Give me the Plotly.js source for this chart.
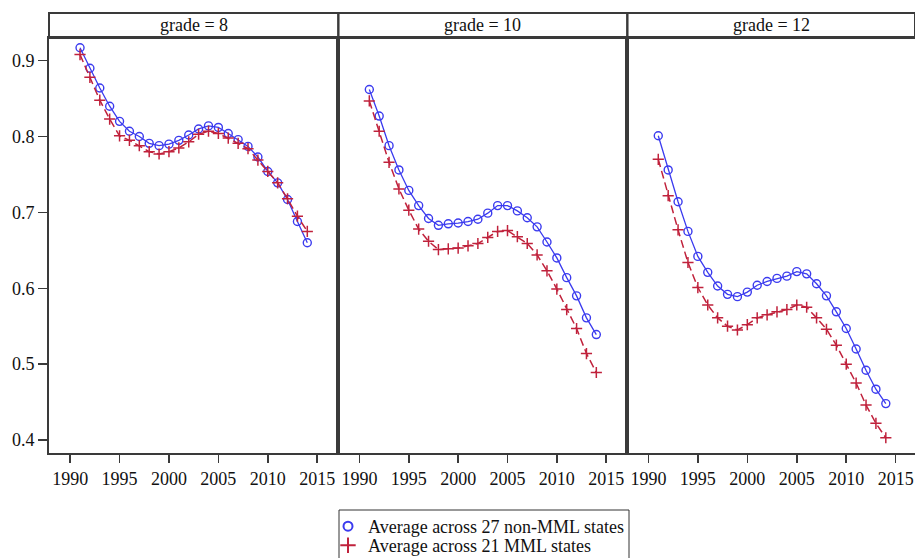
<!DOCTYPE html>
<html>
<head>
<meta charset="utf-8">
<script src="https://cdn.plot.ly/plotly-3.0.1.min.js"></script>
<style>html,body{margin:0;padding:0;background:#fff;}#chart{width:915px;height:558px;}</style>
</head>
<body>
<div id="chart"></div>
<script>
const years = [1991,1992,1993,1994,1995,1996,1997,1998,1999,2000,2001,2002,2003,2004,2005,2006,2007,2008,2009,2010,2011,2012,2013,2014];
const panelTitles = ["grade = 8", "grade = 10", "grade = 12"];
const seriesNames = ["Average across 27 non-MML states", "Average across 21 MML states"];

const grade8NonMML = [0.917,0.890,0.864,0.840,0.820,0.807,0.800,0.791,0.788,0.790,0.795,0.802,0.810,0.814,0.812,0.804,0.796,0.787,0.773,0.754,0.739,0.717,0.688,0.660];
const grade8MML    = [0.908,0.878,0.848,0.823,0.801,0.795,0.788,0.780,0.777,0.780,0.785,0.793,0.803,0.807,0.804,0.798,0.791,0.784,0.769,0.754,0.739,0.718,0.695,0.675];

const grade10NonMML = [0.862,0.827,0.788,0.756,0.729,0.709,0.692,0.683,0.685,0.686,0.688,0.691,0.699,0.709,0.709,0.702,0.693,0.681,0.661,0.640,0.614,0.590,0.561,0.539];
const grade10MML    = [0.847,0.807,0.766,0.731,0.703,0.678,0.662,0.651,0.652,0.653,0.656,0.659,0.667,0.675,0.676,0.668,0.659,0.644,0.623,0.599,0.572,0.547,0.514,0.489];

const grade12NonMML = [0.801,0.756,0.714,0.675,0.642,0.621,0.603,0.592,0.589,0.595,0.604,0.609,0.613,0.616,0.622,0.619,0.606,0.590,0.569,0.547,0.520,0.492,0.467,0.448];
const grade12MML    = [0.770,0.722,0.677,0.634,0.601,0.578,0.561,0.550,0.545,0.552,0.561,0.565,0.569,0.572,0.578,0.575,0.561,0.546,0.525,0.500,0.475,0.446,0.422,0.403];

const xTicks = [1990,1995,2000,2005,2010,2015];
const yTicks = [0.4,0.5,0.6,0.7,0.8,0.9];

const BLUE = '#3b3bef';
const RED = '#c0223c';
const FONT = 'Liberation Serif';
const FRAME = '#3a3a3a';

const panels = [
  {non: grade8NonMML, mml: grade8MML},
  {non: grade10NonMML, mml: grade10MML},
  {non: grade12NonMML, mml: grade12MML}
];

const traces = [];
panels.forEach((p, i) => {
  const xa = i === 0 ? 'x' : 'x' + (i + 1);
  const ya = i === 0 ? 'y' : 'y' + (i + 1);
  traces.push({
    x: years, y: p.non, xaxis: xa, yaxis: ya, type: 'scatter', mode: 'lines+markers',
    name: seriesNames[0], showlegend: false,
    line: {color: BLUE, width: 1.3},
    marker: {symbol: 'circle-open', size: 8, color: BLUE, line: {color: BLUE, width: 1.4}}
  });
  traces.push({
    x: years, y: p.mml, xaxis: xa, yaxis: ya, type: 'scatter', mode: 'lines+markers',
    name: seriesNames[1], showlegend: false,
    line: {color: RED, width: 1.5, dash: '8px,4px'},
    marker: {symbol: 'cross-thin-open', size: 8, color: RED, line: {color: RED, width: 1.5}}
  });
});
// legend entries (marker only), one per legend so each row can be placed
traces.push({x: [null], y: [null], type: 'scatter', mode: 'markers', name: seriesNames[0], showlegend: true, legend: 'legend',
  marker: {symbol: 'circle-open', size: 9, color: BLUE, line: {color: BLUE, width: 2}}});
traces.push({x: [null], y: [null], type: 'scatter', mode: 'markers', name: seriesNames[1], showlegend: true, legend: 'legend2',
  marker: {symbol: 'cross-thin-open', size: 11, color: RED, line: {color: RED, width: 2}}});

const domains = [[0, 0.3341], [0.3341, 0.6678], [0.6678, 1]];
const xRanges = [[1987.86, 2017.14], [1987.86, 2017.14], [1987.87, 2016.95]];
const yTop = 0.9432;

const legendBase = {
  xref: 'container', yref: 'container', xanchor: 'left', yanchor: 'top',
  bgcolor: 'rgba(0,0,0,0)', borderwidth: 0,
  font: {family: FONT, size: 18, color: '#111'},
  itemwidth: 30
};

const layout = {
  width: 915, height: 558,
  margin: {l: 49, r: 0, t: 13, b: 105, pad: 0, autoexpand: false},
  paper_bgcolor: '#fff', plot_bgcolor: '#fff',
  font: {family: FONT, size: 18, color: '#111'},
  showlegend: true,
  legend: Object.assign({}, legendBase, {x: 328 / 915, y: (558 - 508) / 558}),
  legend2: Object.assign({}, legendBase, {x: 328 / 915, y: (558 - 527) / 558}),
  shapes: [{
    type: 'rect', xref: 'paper', yref: 'paper',
    x0: (339 - 49) / 866, x1: (629 - 49) / 866,
    y0: (453 - 510) / 440, y1: (453 - 580) / 440,
    line: {color: '#333', width: 1}, fillcolor: 'rgba(0,0,0,0)'
  }],
  annotations: []
};

domains.forEach((d, i) => {
  const xk = i === 0 ? 'xaxis' : 'xaxis' + (i + 1);
  const yk = i === 0 ? 'yaxis' : 'yaxis' + (i + 1);
  const ya = i === 0 ? 'y' : 'y' + (i + 1);
  const xa = i === 0 ? 'x' : 'x' + (i + 1);
  layout[xk] = {
    domain: d, anchor: ya, range: xRanges[i],
    tickmode: 'array', tickvals: xTicks, ticktext: xTicks.map(String),
    ticks: 'outside', ticklen: 8, tickwidth: 1.5, tickcolor: FRAME,
    showline: true, linecolor: FRAME, linewidth: 2, mirror: true,
    showgrid: false, zeroline: false, automargin: false,
    tickfont: {family: FONT, size: 18, color: '#111'}
  };
  layout[yk] = {
    domain: [0, yTop], anchor: xa, range: [0.3829, 0.9299],
    tickmode: 'array', tickvals: yTicks, ticktext: yTicks.map(v => v.toFixed(1)),
    ticks: i === 0 ? 'outside' : '', ticklen: 9, tickwidth: 1.5, tickcolor: FRAME,
    showticklabels: i === 0,
    showline: true, linecolor: FRAME, linewidth: 2, mirror: true,
    showgrid: false, zeroline: false, automargin: false,
    tickfont: {family: FONT, size: 18, color: '#111'}
  };
  if (i > 0) layout[yk].matches = 'y';
  layout.shapes.push({
    type: 'rect', xref: 'paper', yref: 'paper',
    x0: d[0], x1: d[1], y0: yTop, y1: 1,
    line: {color: FRAME, width: 2}, fillcolor: 'rgba(0,0,0,0)'
  });
  layout.annotations.push({
    xref: 'paper', yref: 'paper', x: (d[0] + d[1]) / 2, y: (yTop + 1) / 2,
    xanchor: 'center', yanchor: 'middle', showarrow: false,
    text: panelTitles[i], font: {family: FONT, size: 18, color: '#111'}
  });
});

Plotly.newPlot('chart', traces, layout, {displayModeBar: false, staticPlot: true});
</script>
</body>
</html>
